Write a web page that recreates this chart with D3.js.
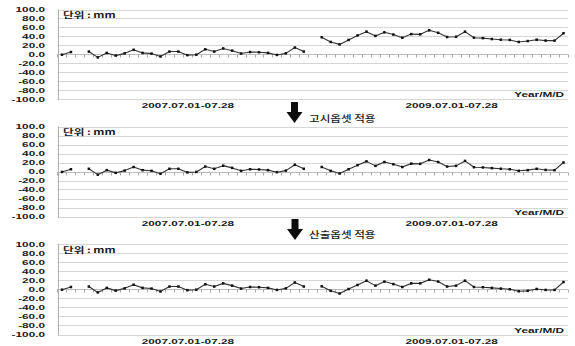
<!DOCTYPE html>
<html>
<head>
<meta charset="utf-8">
<script src="https://cdn.jsdelivr.net/npm/d3@7"></script>
<style>
  html, body { margin: 0; padding: 0; background: #fff; }
  svg { display: block; }
</style>
</head>
<body>
<svg id="chart" width="575" height="346"></svg>
<script>
// Daily displacement (mm), 2007-07-01 .. 07-28 (same record in all three panels)
const series2007 = [-1, 5, null, 6, -7, 3, -3, 2, 10, 3, 1.5, -5, 6, 6, -2, -1, 11, 6, 13, 8, 1.5, 5, 4.5, 3, -1.5, 2, 15, 6];
// 2009-07-01 .. 07-28, raw
const series2009Raw = [38, 27.5, 22, 32, 42, 50.5, 41, 49, 44, 37, 45, 44.5, 53.5, 48, 38.5, 39, 50.5, 37, 36, 34, 32.5, 32, 27.5, 29.5, 32.5, 30.5, 30.5, 47];
// 2009, after applying the published offset
const series2009Notice = [10, 1.5, -4.5, 5, 14, 22.5, 12.5, 21, 16, 10, 17.5, 17, 25.5, 21, 11, 12.5, 23.5, 9.5, 9, 7.5, 6, 5, 1.5, 3, 6, 3.5, 3, 20];
// 2009, after applying the computed offset
const series2009Derived = [6.5, -3.5, -9.5, 0.5, 9.5, 19, 8, 17, 11.5, 5, 13, 13, 21, 17, 6, 8, 19, 5, 4.5, 3, 1.5, 0, -4.5, -3.5, 0.5, -1.5, -1.5, 16];

const yTicks = [100, 80, 60, 40, 20, 0, -20, -40, -60, -80, -100];
const periodLabels = ["2007.07.01-07.28", "2009.07.01-07.28"];
const unitLabel = "단위 : mm";
const axisTitle = "Year/M/D";
const stepNotes = ["고시옵셋 적용", "산출옵셋 적용"];

// category keys: 28 days of 2007, one blank slot, 28 days of 2009
const days = d3.range(1, 29).map(d => String(d).padStart(2, "0"));
const categories = [
  ...days.map(d => "2007.07." + d),
  "sep",
  ...days.map(d => "2009.07." + d)
];

const panelSeries = [
  [...series2007, null, ...series2009Raw],
  [...series2007, null, ...series2009Notice],
  [...series2007, null, ...series2009Derived]
];

// layout
const plotLeft = 57.5, plotRight = 568;
const panels = [
  { top: 9.5, bottom: 99 },
  { top: 126.5, bottom: 216.5 },
  { top: 244, bottom: 334.5 }
];
const latin = "'Liberation Sans', Arial, sans-serif";
const hangul = "'Noto Sans CJK KR', 'Noto Sans', sans-serif";
const stretch = 1.55;   // wide lettering used throughout the figure

const svg = d3.select("#chart");
const fmt = v => v.toFixed(1);

const x = d3.scaleBand().domain(categories).range([plotLeft, plotRight]).paddingInner(0).paddingOuter(0);

function label(g, px, py, str, opts) {
  const o = Object.assign({ anchor: "start", size: 7.6, family: latin, weight: 700, sx: stretch, fill: "#1a1a1a" }, opts || {});
  return g.append("text")
    .attr("transform", `translate(${px},${py}) scale(${o.sx},1)`)
    .attr("text-anchor", o.anchor)
    .attr("font-family", o.family)
    .attr("font-size", o.size)
    .attr("font-weight", o.weight)
    .attr("fill", o.fill)
    .text(str);
}

panels.forEach((p, i) => {
  const g = svg.append("g");
  const y = d3.scaleLinear().domain([-100, 100]).range([p.bottom, p.top]);

  // horizontal grid
  g.selectAll("line.grid").data(yTicks).join("line")
    .attr("x1", plotLeft).attr("x2", plotRight)
    .attr("y1", d => Math.round(y(d)) + 0.5).attr("y2", d => Math.round(y(d)) + 0.5)
    .attr("stroke", d => d === 0 ? "#bcbcbc" : "#d6d6d6")
    .attr("stroke-width", 1);

  // category tick marks on the zero line
  const y0 = Math.round(y(0)) + 0.5;
  const bounds = categories.map(c => x(c)).concat([plotRight]);
  g.selectAll("line.tick").data(bounds).join("line")
    .attr("x1", d => Math.round(d) + 0.5).attr("x2", d => Math.round(d) + 0.5)
    .attr("y1", y0).attr("y2", y0 + 3)
    .attr("stroke", "#a8a8a8").attr("stroke-width", 1);

  // value axis line
  g.append("line")
    .attr("x1", Math.round(plotLeft) + 0.5).attr("x2", Math.round(plotLeft) + 0.5)
    .attr("y1", y(100)).attr("y2", y(-100) + 1)
    .attr("stroke", "#b0b0b0").attr("stroke-width", 1);

  // y tick labels
  yTicks.forEach(t => label(g, 45, y(t) + 2.8, fmt(t), { anchor: "end" }));

  // unit note
  label(g, 63, y(100) + 8.5, unitLabel, { family: hangul, size: 8, sx: 1.45 });

  // series
  const pts = categories.map((c, k) => ({ c, v: panelSeries[i][k] }));
  const line = d3.line()
    .defined(d => d.v != null)
    .x(d => x(d.c) + x.bandwidth() / 2)
    .y(d => y(d.v));
  g.append("path").datum(pts)
    .attr("d", line)
    .attr("fill", "none")
    .attr("stroke", "#333")
    .attr("stroke-width", 1.1)
    .attr("stroke-linejoin", "round");
  g.selectAll("rect.pt").data(pts.filter(d => d.v != null)).join("rect")
    .attr("x", d => x(d.c) + x.bandwidth() / 2 - 1.25)
    .attr("y", d => y(d.v) - 1.25)
    .attr("width", 2.5).attr("height", 2.5)
    .attr("fill", "#111");

  // period labels under the plot
  const mid1 = (x(categories[13]) + x(categories[14]) + x.bandwidth()) / 2;
  const mid2 = (x(categories[42]) + x(categories[43]) + x.bandwidth()) / 2;
  label(g, mid1 + 5, p.bottom + 9, periodLabels[0], { anchor: "middle" });
  label(g, mid2 + 9, p.bottom + 9, periodLabels[1], { anchor: "middle" });

  // axis title
  label(g, 564, p.bottom - 2, axisTitle, { anchor: "end" });
});

// step arrows between panels
const arrows = [
  { cx: 294.5, top: 102, neck: 112, tip: 123, text: stepNotes[0], ty: 121.5 },
  { cx: 295, top: 219, neck: 229, tip: 240, text: stepNotes[1], ty: 238 }
];
arrows.forEach(a => {
  const sw = 3.5, hw = 8;
  const path = d3.path();
  path.moveTo(a.cx - sw, a.top);
  path.lineTo(a.cx + sw, a.top);
  path.lineTo(a.cx + sw, a.neck);
  path.lineTo(a.cx + hw, a.neck);
  path.lineTo(a.cx, a.tip);
  path.lineTo(a.cx - hw, a.neck);
  path.lineTo(a.cx - sw, a.neck);
  path.closePath();
  svg.append("path").attr("d", path.toString()).attr("fill", "#0d0d0d");
  label(svg, 309, a.ty, a.text, { family: hangul, size: 9.5, weight: 500, sx: 1.22, fill: "#222" });
});
</script>
</body>
</html>
